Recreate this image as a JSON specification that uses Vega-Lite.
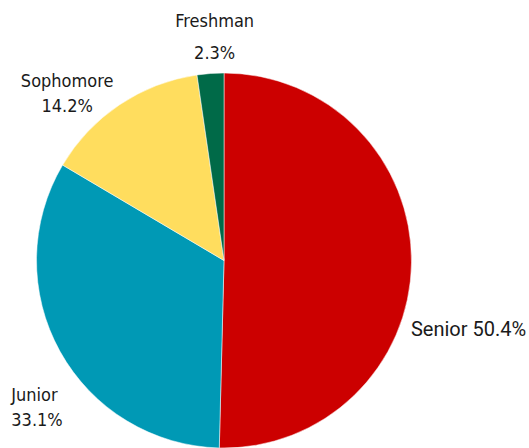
{
  "$schema": "https://vega.github.io/schema/vega-lite/v6.json",
  "width": 448,
  "height": 375,
  "autosize": {"type": "none"},
  "padding": {"left": 0, "top": 73, "right": 81, "bottom": 0},
  "config": {"view": {"stroke": null}},
  "data": {
    "values": [
      {"idx": 1, "category": "Senior", "percent": 50.4, "label": "Senior 50.4%"},
      {"idx": 2, "category": "Junior", "percent": 33.1, "label": "Junior\n33.1%"},
      {"idx": 3, "category": "Sophomore", "percent": 14.2, "label": "Sophomore\n14.2%"},
      {"idx": 4, "category": "Freshman", "percent": 2.3, "label": "Freshman\n2.3%"}
    ]
  },
  "transform": [
    {"stack": "percent", "groupby": [], "sort": [{"field": "idx"}], "as": ["p0", "p1"]},
    {"calculate": "(datum.p0 + datum.p1) / 2", "as": "mid"}
  ],
  "layer": [
    {
      "mark": {"type": "arc", "outerRadius": 187.5, "stroke": "#ffffff", "strokeWidth": 0.5},
      "encoding": {
        "theta": {"field": "p0", "type": "quantitative", "scale": {"domain": [0, 100]}},
        "theta2": {"field": "p1"},
        "color": {
          "field": "category",
          "type": "nominal",
          "scale": {"domain": ["Senior", "Junior", "Sophomore", "Freshman"], "range": ["#CC0000", "#0099B5", "#FFDD5E", "#006A48"]},
          "legend": null
        }
      }
    },
    {
      "transform": [{"filter": "datum.category == 'Freshman'"}],
      "mark": {"type": "text", "radius": 226, "align": "center", "baseline": "alphabetic", "dx": 7, "dy": -8, "lineBreak": "\n", "lineHeight": 32, "font": "DejaVu Sans Condensed, Liberation Sans Narrow, sans-serif", "fontSize": 18, "color": "#1a1a1a"},
      "encoding": {"theta": {"field": "mid", "type": "quantitative", "stack": null}, "text": {"field": "label"}}
    },
    {
      "transform": [{"filter": "datum.category == 'Sophomore'"}],
      "mark": {"type": "text", "radius": 226, "align": "center", "baseline": "alphabetic", "dx": -31, "dy": 14, "lineBreak": "\n", "lineHeight": 25, "font": "DejaVu Sans Condensed, Liberation Sans Narrow, sans-serif", "fontSize": 18, "color": "#1a1a1a"},
      "encoding": {"theta": {"field": "mid", "type": "quantitative", "stack": null}, "text": {"field": "label"}}
    },
    {
      "transform": [{"filter": "datum.category == 'Junior'"}],
      "mark": {"type": "text", "radius": 226, "align": "left", "baseline": "alphabetic", "dx": -15, "dy": 31, "lineBreak": "\n", "lineHeight": 25, "font": "DejaVu Sans Condensed, Liberation Sans Narrow, sans-serif", "fontSize": 18, "color": "#1a1a1a"},
      "encoding": {"theta": {"field": "mid", "type": "quantitative", "stack": null}, "text": {"field": "label"}}
    },
    {
      "transform": [{"filter": "datum.category == 'Senior'"}],
      "mark": {"type": "text", "radius": 226, "align": "left", "baseline": "alphabetic", "dx": -39, "dy": 73, "font": "Roboto, sans-serif", "fontSize": 20, "color": "#1a1a1a"},
      "encoding": {"theta": {"field": "mid", "type": "quantitative", "stack": null}, "text": {"field": "label"}}
    }
  ]
}
